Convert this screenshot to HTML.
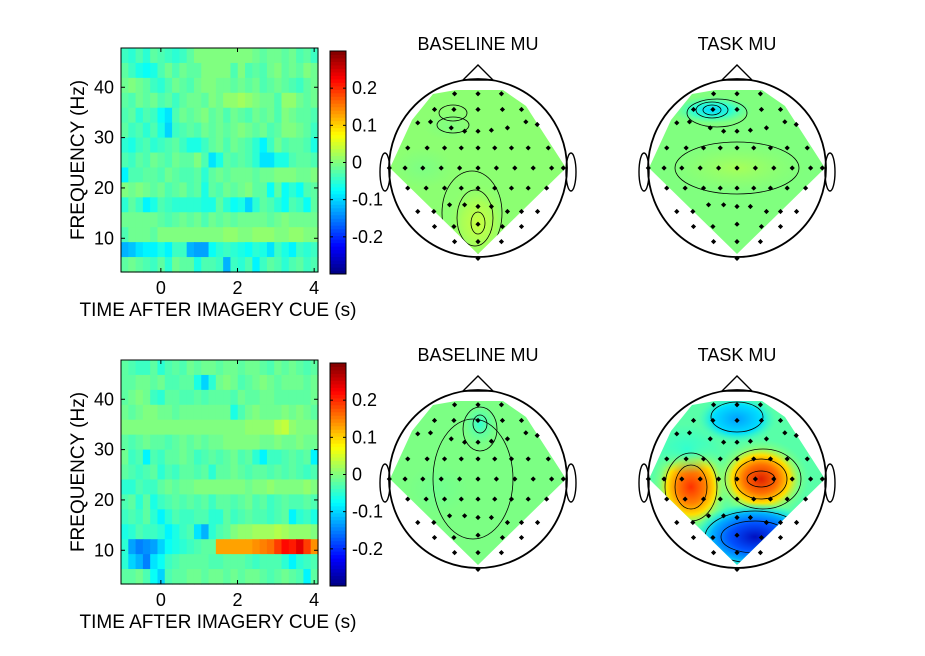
<!DOCTYPE html>
<html><head><meta charset="utf-8"><style>
body{margin:0;background:#fff;}
svg{display:block;font-family:"Liberation Sans",Arial,sans-serif;}
</style></head><body>
<svg id="fig" width="925" height="656" viewBox="0 0 925 656" xmlns="http://www.w3.org/2000/svg">
<defs id="defs"></defs>
<g id="root"></g>
</svg>
<script>
// ---- spectrogram data (values in hundredths; rows top=high freq) ----
const timeRange = [-1.04, 4.1];
const freqRange = [3.3, 47.8];
const xTicks = [0, 2, 4];
const yTicks = [10, 20, 30, 40];
const cbTicks = [0.2, 0.1, 0, -0.1, -0.2];
const cbLabels = ["0.2", "0.1", "0", "-0.1", "-0.2"];
const topMap = [
[-4,-5,-3,-5,-2,-3,-4,-5,-4,-2,0,0,0,0,0,0,0,0,-1,-2,-1,-1,-2,-1,-3,-2,-4],
[-2,-4,-6,-7,-6,-3,-1,-3,-1,-2,-2,0,0,0,0,-3,0,-3,-2,-3,-1,0,-2,-1,-2,0,-1],
[-1,0,-1,-2,-4,-5,-3,-1,-2,-3,-1,0,0,-1,-1,-2,-1,-2,-1,-3,-2,-1,-2,-3,-4,-2,-1],
[-2,-3,-1,-2,-1,-3,-2,-4,-2,-1,-1,-2,0,-1,1,1,2,1,0,-1,-1,-3,1,1,-1,-2,-1],
[-3,-2,-5,-3,-4,-7,-9,-3,-1,-2,-1,0,-2,-1,-3,-1,-2,-3,-1,-2,-1,-3,0,-1,-2,-2,-3],
[-2,-4,-3,-5,-3,-6,-10,-4,-3,-2,-3,-1,-2,-1,-2,-1,0,-1,-2,-1,-3,-2,0,0,-1,-2,-4],
[-5,-6,-4,-3,-5,-4,-3,-2,-4,-6,-6,-4,-2,-1,-3,-1,-2,-3,-5,-8,-4,-1,-3,-2,-2,-3,-6],
[-3,-4,-2,-3,-1,-2,-3,-1,-2,-2,0,-3,-9,-6,-2,-3,-2,-3,-5,-9,-9,-6,-6,-3,-2,-2,-3],
[-8,-3,-3,-2,-2,-3,-1,-2,-3,-3,-2,-5,-2,-1,-2,-1,-1,-1,-2,-1,-1,0,0,0,-1,-1,0],
[0,-1,0,-1,-2,-1,-3,-2,-1,-3,-2,-6,-2,-3,-1,-2,-1,0,-2,-2,-7,-2,-7,-5,-7,-3,-2],
[-5,-2,-4,-8,-6,-3,-4,-5,-5,-5,-5,-6,-6,-2,-5,-7,-6,-10,-5,-2,-3,-5,-7,-3,-4,-7,-2],
[-1,-1,-1,-1,-1,-2,-3,-2,-1,-2,-1,-3,-1,-2,-1,-2,-1,-1,-1,-1,-2,-1,0,-1,-1,-1,-1],
[-3,-1,-1,-1,-2,0,0,0,0,0,0,0,0,0,1,1,0,0,1,1,1,0,0,1,1,0,0],
[-12,-11,-9,-8,-8,-6,-8,-4,-4,-12,-13,-13,-7,-5,-4,-5,-6,-7,-5,-6,-9,-4,-6,-8,-4,-5,-4],
[-2,-1,-2,-3,-4,-2,-5,-1,-2,-2,-6,-3,-3,-4,-12,-4,-5,-3,-8,-4,-2,-3,-5,-3,-2,-4,-3]
];
const bottomMap = [
[-2,-3,-4,-4,-2,-5,-3,-2,-3,-1,-2,-1,-1,-2,-1,-1,-2,-1,-1,-2,-3,-1,-2,-1,-2,-3,-2],
[-2,-2,-1,-1,-2,-1,-3,-3,-2,-2,-6,-10,-5,-1,0,-1,-3,-2,-1,0,-1,-2,-1,-1,-1,-2,-1],
[-2,-1,0,-1,-4,-5,-2,-2,-3,-3,-2,-3,-2,-2,-2,-3,-1,-2,-2,-1,-1,-2,-2,-2,-2,-2,-1],
[-1,-2,-1,0,0,-1,-1,-2,-1,-1,-1,-1,-1,-1,-1,-6,-3,-1,0,-1,-1,-1,0,-1,0,-1,-2],
[0,0,0,0,0,0,0,0,0,0,0,0,0,0,0,0,0,1,1,1,1,3,4,1,0,0,0],
[-2,-3,-2,-1,-2,-2,-3,-2,-1,-2,-1,-2,-1,-1,0,0,0,0,0,-1,-1,0,-1,-1,0,-1,-1],
[-1,-4,-3,-8,-3,-4,-2,-2,-1,-2,-4,-3,-2,-3,-2,-1,-3,-2,-5,-8,-4,-4,-3,-2,-3,-2,-8],
[-2,-3,-4,-3,-2,-5,-3,-4,-2,-2,-3,-2,-5,-2,-2,-1,-2,-3,-2,-2,-3,-2,-3,-2,-3,-4,-3],
[-5,-5,-3,-4,-4,-2,-1,-2,-1,-1,0,0,0,0,0,0,0,-1,0,0,1,0,0,0,0,1,0],
[-3,-2,-5,-2,-6,-4,-3,-2,-3,-2,-3,-2,-4,-2,-2,-3,-2,-1,-3,-2,-4,-3,-2,-3,-3,-2,-3],
[-4,-3,-4,-2,-5,-8,-5,-3,-4,-4,-3,-3,-5,-5,-2,-4,-3,-2,-3,-3,-4,-3,-2,-8,-5,-4,-6],
[-6,-5,-3,-4,-4,-5,-8,-6,-4,-3,-9,-12,-5,-3,-2,0,1,1,2,2,2,3,2,1,1,1,0],
[-5,-13,-15,-14,-13,-10,-7,-6,-5,-4,-3,-2,-2,13,13,13,13,13,14,15,16,19,22,21,24,19,14],
[-5,-10,-12,-15,-9,-7,-4,-3,-2,-2,-2,-2,-3,-3,-2,-2,-2,-3,-4,-3,-3,-3,-5,-8,-5,-4,-3],
[-2,-2,-1,-3,-7,-10,-3,-2,-2,-1,-1,-2,-1,-1,-2,-1,-2,-1,-1,-2,-3,-2,-1,-2,-3,-8,-2]
];
// electrode positions (normalized to head radius)
const elecX = [240,310,380, 180,238,310,383,440, 130,168,230,270,310,350,398,453,487, 100,158,210,260,310,360,410,460,520, 45,92,145,200,255,310,365,420,475,530,565, 100,155,210,260,310,360,410,460,515, 130,178,225,270,310,350,398,440,488, 180,238,310,383,440, 240,310,380, 310];
const elecY = [188,188,188, 235,235,235,235,235, 275,272,290,300,300,297,290,272,280, 350,350,350,350,350,350,350,350,350, 410,410,410,410,410,410,410,410,410,410,410, 470,470,470,470,470,470,470,470,470, 540,540,520,520,525,525,540,540,540, 585,585,578,585,585, 630,630,630, 680];

const NS='http://www.w3.org/2000/svg';
const root=document.getElementById('root');
const defs=document.getElementById('defs');
function mk(tag,attrs,parent){const e=document.createElementNS(NS,tag);for(const k in attrs)e.setAttribute(k,attrs[k]);(parent||root).appendChild(e);return e;}
function jet(v){let t=(v+0.3)/0.6;t=Math.max(0,Math.min(1,t));
 const r=Math.max(0,Math.min(1,1.5-Math.abs(4*t-3))),g=Math.max(0,Math.min(1,1.5-Math.abs(4*t-2))),b=Math.max(0,Math.min(1,1.5-Math.abs(4*t-1)));
 return `rgb(${Math.round(r*255)},${Math.round(g*255)},${Math.round(b*255)})`;}

function spectrogram(map,oy,name){
 const X0=121,X1=318,Y0=oy,Y1=oy+224;
 const g=mk('g',{});
 
 
 const xs=t=>X0+(t-timeRange[0])/(timeRange[1]-timeRange[0])*(X1-X0);
 const ys=f=>Y1-(f-freqRange[0])/(freqRange[1]-freqRange[0])*(Y1-Y0);
 const nr=map.length,nc=map[0].length;
 const dt=(timeRange[1]-timeRange[0])/nc,df=(freqRange[1]-freqRange[0])/nr;
 for(let i=0;i<nr;i++)for(let j=0;j<nc;j++){
  const f1=freqRange[1]-i*df,f0=f1-df,t0=timeRange[0]+j*dt,t1=t0+dt;
  const c=mk('rect',{x:xs(t0),y:ys(f1),width:xs(t1)-xs(t0)+0.6,height:ys(f0)-ys(f1)+0.6,fill:jet(map[i][j]/100)},g);
  
  
 }
 mk('rect',{x:X0,y:Y0,width:X1-X0,height:Y1-Y0,fill:'none',stroke:'#000','stroke-width':1},g);
 xTicks.forEach(t=>{const x=xs(t);mk('line',{x1:x,x2:x,y1:Y1,y2:Y1-4,stroke:'#000'},g);mk('line',{x1:x,x2:x,y1:Y0,y2:Y0+4,stroke:'#000'},g);
  const tx=mk('text',{x:x,y:Y1+22,'font-size':18,'text-anchor':'middle'},g);tx.textContent=t;
  
  });
 yTicks.forEach(f=>{const y=ys(f);mk('line',{x1:X0,x2:X0+4,y1:y,y2:y,stroke:'#000'},g);mk('line',{x1:X1,x2:X1-4,y1:y,y2:y,stroke:'#000'},g);
  const tx=mk('text',{x:X0-7,y:y+6,'font-size':18,'text-anchor':'end'},g);tx.textContent=f;
  
  });
 const xl=mk('text',{x:218,y:Y1+44,'font-size':19,'text-anchor':'middle'},g);xl.textContent='TIME AFTER IMAGERY CUE (s)';
 
 
 const yl=mk('text',{x:0,y:0,'font-size':19,'text-anchor':'middle',transform:`translate(84,${(Y0+Y1)/2}) rotate(-90)`},g);yl.textContent='FREQUENCY (Hz)';
 
 
 // colorbar
 const cb=mk('g',{},g);
 
 
 const C0=oy+3,C1=oy+226,cx0=330,cx1=346;
 const cs=v=>C1-(v+0.3)/0.6*(C1-C0);
 for(let k=0;k<64;k++){const v0=-0.3+k*0.6/64,v1=v0+0.6/64;mk('rect',{x:cx0,y:cs(v1),width:cx1-cx0,height:cs(v0)-cs(v1)+0.5,fill:jet((v0+v1)/2)},cb);}
 mk('rect',{x:cx0,y:C0,width:cx1-cx0,height:C1-C0,fill:'none',stroke:'#000'},cb);
 cbTicks.forEach((v,i)=>{const y=cs(v);mk('line',{x1:cx1,x2:cx1-3,y1:y,y2:y,stroke:'#000'},cb);mk('line',{x1:cx0,x2:cx0+3,y1:y,y2:y,stroke:'#000'},cb);
  const tx=mk('text',{x:cx1+6,y:y+6,'font-size':18},cb);tx.textContent=cbLabels[i];
  
  });
}
spectrogram(topMap,48,'spectrogram-top');
spectrogram(bottomMap,360,'spectrogram-bottom');

let gid=0;
function grad(stops){const id='g'+(gid++);const rg=mk('radialGradient',{id},defs);
 stops.forEach(s=>mk('stop',{offset:s[0],'stop-color':s[1],'stop-opacity':s[2]===undefined?1:s[2]},rg));return id;}
function topo(cx,cy,title,name,base,blobs,contours){
 const R=89,s=R/266;
 const g=mk('g',{});
 
 
 const t=mk('text',{x:cx,y:cy-118,'font-size':18,'text-anchor':'middle'},g);t.textContent=title;
 
 
 const cid='c'+(gid++);const cp=mk('clipPath',{id:cid},defs);
 const pts=[[-45,-74],[-22,-78],[25,-78],[48,-62],[88,0],[0,86],[-88,0],[-66,-48]];
 mk('polygon',{points:pts.map(p=>(cx+p[0])+','+(cy+p[1])).join(' ')},cp);
 const fg=mk('g',{'clip-path':`url(#${cid})`},g);
 mk('rect',{x:cx-95,y:cy-95,width:190,height:190,fill:base},fg);
 blobs.forEach(b=>{const id=grad(b.stops);mk('ellipse',{cx:cx+b.x,cy:cy+b.y,rx:b.rx,ry:b.ry,fill:`url(#${id})`},fg);});
 contours.forEach(c=>mk('ellipse',{cx:cx+c[0],cy:cy+c[1],rx:c[2],ry:c[3],fill:'none',stroke:'#000','stroke-width':0.8},fg));
 mk('circle',{cx,cy,r:R,fill:'none',stroke:'#000','stroke-width':1.8},g);
 mk('polygon',{points:`${cx-15},${cy-R+1} ${cx},${cy-R-14} ${cx+15},${cy-R+1}`,fill:'none',stroke:'#000','stroke-width':1.4},g);
 mk('ellipse',{cx:cx-93,cy:cy+4,rx:5,ry:19,fill:'none',stroke:'#000','stroke-width':1.4},g);
 mk('ellipse',{cx:cx+93,cy:cy+4,rx:5,ry:19,fill:'none',stroke:'#000','stroke-width':1.4},g);
 elecX.forEach((ex,i)=>{const x=cx+(ex-310)*s,y=cy+(elecY[i]-410)*s;
  const d=mk('polygon',{points:`${x},${y-2.6} ${x+2.6},${y} ${x},${y+2.6} ${x-2.6},${y}`,fill:'#000'},g);
  
  });
}
const gY=[[0,'#c8ff40'],[0.5,'#a8ff58'],[1,'#8cff70',0]];
topo(478,168,'BASELINE MU','topo-baseline-top','#8cff72',
 [{x:0,y:55,rx:32,ry:42,stops:gY},{x:-30,y:-42,rx:25,ry:14,stops:[[0,'#80ff80'],[1,'#80ff80',0]]},{x:-55,y:0,rx:30,ry:20,stops:[[0,'#7cff85'],[1,'#7cff85',0]]}],
 [[0,55,7,11],[-3,50,18,28],[-6,45,30,42],[-25,-43,16,8],[-25,-55,14,8]]);
topo(737,168,'TASK MU','topo-task-top','#80ff7f',
 [{x:0,y:0,rx:70,ry:25,stops:[[0,'#a8ff58'],[1,'#90ff6e',0]]},{x:-25,y:-58,rx:40,ry:14,stops:[[0,'#00d8ff'],[0.5,'#30ffcf'],[1,'#60ffa0',0]]}],
 [[-25,-58,9,5],[-25,-58,16,8],[-20,-55,30,14],[0,0,62,26]]);
topo(478,479,'BASELINE MU','topo-baseline-bottom','#7cff84',
 [{x:2,y:-55,rx:18,ry:22,stops:[[0,'#30ffd0'],[1,'#60ffa0',0]]},{x:-40,y:10,rx:30,ry:25,stops:[[0,'#70ff90'],[1,'#70ff90',0]]}],
 [[2,-55,7,9],[2,-50,17,22],[-5,0,40,60]]);
topo(737,479,'TASK MU','topo-task-bottom','#58ffa8',
 [{x:-46,y:8,rx:40,ry:46,stops:[[0,'#ff3000'],[0.35,'#ff8000'],[0.6,'#ffe000'],[0.8,'#a0ff60',0.5],[1,'#80ff80',0]]},
  {x:24,y:0,rx:48,ry:40,stops:[[0,'#e02000'],[0.35,'#ff7000'],[0.6,'#ffe000'],[0.8,'#a0ff60',0.5],[1,'#80ff80',0]]},
  {x:18,y:58,rx:62,ry:34,stops:[[0,'#0010c0'],[0.4,'#0050ff'],[0.7,'#00b0ff'],[1,'#00ffff',0]]},
  {x:0,y:-60,rx:40,ry:24,stops:[[0,'#00a0ff'],[0.6,'#00e0ff'],[1,'#40ffc0',0]]},
  {x:-50,y:-30,rx:35,ry:25,stops:[[0,'#30ffd0'],[1,'#30ffd0',0]]}],
 [[-46,8,16,22],[-46,8,26,34],[24,0,14,8],[24,0,26,20],[26,0,38,30],[18,58,34,16],[18,58,50,26],[0,-62,26,15]]);
</script>
</body></html>
